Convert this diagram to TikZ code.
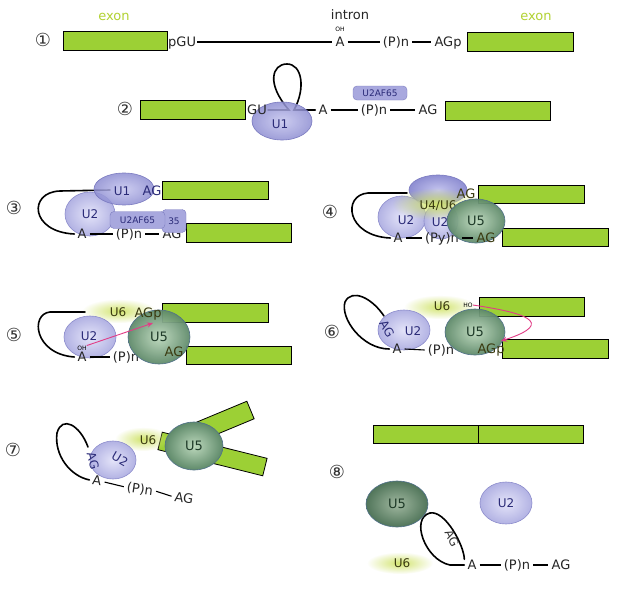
\documentclass[tikz,border=0pt]{standalone}
\usepackage{fontspec}
\setmainfont{DejaVu Sans}
\usetikzlibrary{shapes.geometric,arrows.meta,fadings}
\definecolor{exgreen}{HTML}{9CD035}
\definecolor{exlabel}{HTML}{B2D232}
\definecolor{uonein}{HTML}{C4C4EE}
\definecolor{uoneout}{HTML}{8E8ED2}
\definecolor{uonedge}{HTML}{7A7AC0}
\definecolor{utwoin}{HTML}{E4E4F9}
\definecolor{utwoout}{HTML}{B2B2E3}
\definecolor{utwoedge}{HTML}{8C8CCC}
\definecolor{ufivein}{HTML}{BCD8BC}
\definecolor{ufiveout}{HTML}{5F8A6A}
\definecolor{ufiveedge}{HTML}{50708A}
\definecolor{glowc}{HTML}{D2E46E}
\definecolor{tagfill}{HTML}{A8A8DE}
\definecolor{tagedge}{HTML}{7C7CC0}
\definecolor{pinkc}{HTML}{E23C86}
\definecolor{utxt}{HTML}{2B2B78}
\definecolor{ftxt}{HTML}{1E3A28}
\definecolor{gtxt}{HTML}{3A3A10}
\tikzfading[name=glowfade, inner color=transparent!0, outer color=transparent!100]
\pgfdeclarelayer{paper}
\pgfdeclarelayer{strand}
\pgfdeclarelayer{blob}
\pgfdeclarelayer{front}
\pgfsetlayers{paper,strand,blob,main,front}
\begin{document}
\begin{tikzpicture}[x=1pt,y=-1pt,
  exon/.style={rectangle, draw=black, line width=0.8pt, fill=exgreen, minimum height=19pt, inner sep=0pt},
  lbl/.style={inner xsep=3pt, inner ysep=1pt, text height=9pt, text depth=0pt, font=\fontsize{13}{15}\selectfont, text=black!85},
  exlbl/.style={inner sep=1pt, font=\fontsize{13}{15}\selectfont, text=exlabel},
  num/.style={inner sep=0pt, font=\fontsize{18}{19}\selectfont, text=black!80},
  seq/.style={line width=1.1pt, black},
  loopline/.style={line width=1.6pt, black, line cap=round},
  uone/.style={ellipse, draw=uonedge, line width=0.6pt, inner color=uonein, outer color=uoneout, inner sep=0pt, text=utxt, font=\fontsize{12}{14}\selectfont, text opacity=1},
  utwo/.style={ellipse, draw=utwoedge, line width=0.6pt, inner color=utwoin, outer color=utwoout, inner sep=0pt, text=utxt, font=\fontsize{12}{14}\selectfont, text opacity=1},
  ufive/.style={ellipse, draw=ufiveedge, line width=0.6pt, inner color=ufivein, outer color=ufiveout, inner sep=0pt, text=ftxt, font=\fontsize{13}{15}\selectfont, text opacity=1},
  glow/.style={ellipse, fill=glowc, path fading=glowfade, inner sep=0pt},
  snlbl/.style={inner sep=0pt, font=\fontsize{12}{14}\selectfont, text=utxt},
  sixlbl/.style={inner sep=0pt, font=\fontsize{12}{14}\selectfont, text=gtxt},
  tag/.style={rounded corners=4pt, draw=tagedge, fill=tagfill, font=\fontsize{9}{10}\selectfont, text=utxt, inner sep=1pt},
  oh/.style={inner sep=0pt, font=\fontsize{6}{7}\selectfont},
  pinkarrow/.style={draw=pinkc, line width=0.9pt, -{Stealth[length=6pt,width=5pt]}}
]
\begin{pgfonlayer}{paper}
\fill[white] (0,0) rectangle (633,592);
\end{pgfonlayer}
\useasboundingbox (0,0) rectangle (633,592);

% ---------- step 1 ----------
\node[exlbl] (ex1) at (114,17) {exon};
\node[exlbl] (ex2) at (536,17) {exon};
\node[lbl] (intr) at (350,15) {intron};
\node[num] (n1) at (43,40) {①};
\node[exon, minimum width=104] (b1l) at (115,40.5) {};
\node[lbl, anchor=west, inner xsep=1pt] (s1gu) at (167,42) {pGU};
\node[lbl] (s1a) at (340,42) {A};
\node[oh] (s1oh) at (340,29) {OH};
\node[lbl] (s1p) at (396,42) {(P)n};
\node[lbl] (s1ag) at (448,42) {AGp};
\node[exon, minimum width=106] (b1r) at (520,41.5) {};
\draw[seq] (s1gu.east) -- (s1a.west);
\draw[seq] (s1a.east) -- (s1p.west);
\draw[seq] (s1p.east) -- (s1ag.west);

% ---------- step 2 ----------
\node[num] (n2) at (125,109) {②};
\node[exon, minimum width=105] (b2l) at (192.5,109.5) {};
\node[lbl, anchor=west, inner xsep=1pt] (s2gu) at (246,110) {GU};
\node[lbl] (s2a) at (323,110) {A};
\node[lbl] (s2p) at (374,110) {(P)n};
\node[lbl] (s2ag) at (428,110) {AG};
\node[exon, minimum width=105] (b2r) at (497.5,111) {};
\node[tag, minimum width=54, minimum height=14] (s2tag) at (380,93) {U2AF65};
\begin{pgfonlayer}{blob}
\node[uone, minimum width=60, minimum height=38, fill opacity=0.85] (s2u1) at (282,121) {};
\end{pgfonlayer}
\node[snlbl] (s2u1t) at (280,124) {U1};
\begin{pgfonlayer}{strand}
\draw[loopline] (s2gu.east) -- (289,110) .. controls (266,84) and (272,64) .. (287,64) .. controls (302,64) and (306,88) .. (294,110) -- (s2a.west);
\end{pgfonlayer}
\draw[seq] (s2a.east) -- (s2p.west);
\draw[seq] (s2p.east) -- (s2ag.west);

% ---------- step 3 ----------
\node[num] (n3) at (14,208) {③};
\node[exon, minimum width=106, minimum height=18] (b3t) at (215,190.5) {};
\node[exon, minimum width=105] (b3b) at (238.5,232.5) {};
\node[lbl] (s3a) at (82,234) {A};
\node[lbl] (s3p) at (129,234) {(P)n};
\node[lbl] (s3ag) at (172,234) {AG};
\begin{pgfonlayer}{blob}
\node[utwo, minimum width=50, minimum height=44] (s3u2) at (90,214) {U2};
\node[uone, minimum width=60, minimum height=32, fill opacity=0.85] (s3u1) at (124,189) {};
\end{pgfonlayer}
\node[snlbl] (s3u1t) at (122,191) {U1};
\node[lbl, text=utxt] (s3agt) at (152,191) {AG};
\node[tag, minimum width=24, minimum height=23] (s3tag2) at (174,221) {35};
\node[tag, minimum width=55, minimum height=17] (s3tag) at (137.5,220) {U2AF65};
\coordinate (s3start) at (110,190);
\begin{pgfonlayer}{strand}
\draw[loopline] (s3start) -- (60,191) .. controls (28,192) and (30,232) .. (s3a.west);
\end{pgfonlayer}
\draw[seq] (s3a.east) -- (s3p.west);
\draw[seq] (s3p.east) -- (s3ag.west);

% ---------- step 4 ----------
\node[num] (n4) at (330,212) {④};
\node[exon, minimum width=106, minimum height=18] (b4t) at (531,194) {};
\node[exon, minimum width=106, minimum height=18] (b4b) at (555,237) {};
\node[lbl] (s4a) at (398,238) {A};
\node[lbl] (s4p) at (442,238) {(Py)n};
\begin{pgfonlayer}{blob}
\node[uone, minimum width=58, minimum height=30] (s4u1) at (438,190) {};
\node[utwo, minimum width=48, minimum height=42] (s4u2) at (402,217) {};
\node[utwo, minimum width=34, minimum height=36] (s4u2b) at (441,221) {};
\node[glow, minimum width=88, minimum height=32] (s4glow) at (436,204) {};
\end{pgfonlayer}
\node[snlbl] (s4u2t) at (406,220) {U2};
\node[snlbl] (s4u2bt) at (440,222) {U2};
\node[sixlbl] (s4u46) at (438,206) {U4/U6};
\node[lbl, text=gtxt] (s4agt) at (466,194) {AG};
\coordinate (s4start) at (407,193);
\begin{pgfonlayer}{strand}
\draw[loopline] (s4start) -- (368,193) .. controls (342,195) and (346,236) .. (s4a.west);
\end{pgfonlayer}
\draw[seq] (s4a.east) -- (s4p.west);
\begin{pgfonlayer}{front}
\node[ufive, minimum width=58, minimum height=44, fill opacity=0.95] (s4u5) at (476,221) {U5};
\node[lbl, text=gtxt] (s4ag) at (486,238) {AG};
\draw[seq] (s4p.east) -- (s4ag.west);
\end{pgfonlayer}

% ---------- step 5 ----------
\node[num] (n5) at (14,335) {⑤};
\node[exon, minimum width=106] (b5t) at (215,312.5) {};
\node[exon, minimum width=105, minimum height=18] (b5b) at (238.5,355) {};
\node[lbl] (s5a) at (82,357) {A};
\node[lbl] (s5p) at (126,357) {(P)n};
\begin{pgfonlayer}{blob}
\node[glow, minimum width=74, minimum height=24] (s5glow) at (119,311) {};
\node[utwo, minimum width=52, minimum height=42] (s5u2) at (90,337) {};
\end{pgfonlayer}
\node[sixlbl] (s5u6) at (118,312) {U6};
\node[snlbl] (s5u2t) at (89,336) {U2};
\node[oh] (s5oh) at (82,348) {OH};
\coordinate (s5start) at (85,312);
\begin{pgfonlayer}{strand}
\draw[loopline] (s5start) -- (50,312) .. controls (30,314) and (34,354) .. (s5a.west);
\end{pgfonlayer}
\draw[seq] (s5a.east) -- (s5p.west);
\begin{pgfonlayer}{front}
\node[ufive, minimum width=62, minimum height=54, fill opacity=0.95] (s5u5) at (159,337) {U5};
\node[lbl, text=gtxt] (s5agp) at (148,313) {AGp};
\node[lbl, text=gtxt] (s5ag) at (174,352) {AG};
\coordinate (s5tip) at (153,323);
\draw[pinkarrow] (s5oh.north east) -- (s5tip);
\end{pgfonlayer}

% ---------- step 6 ----------
\node[num] (n6) at (332,332) {⑥};
\node[exon, minimum width=105] (b6t) at (531.5,306.5) {};
\node[exon, minimum width=106] (b6b) at (555,348.5) {};
\node[lbl] (s6a) at (397,349) {A};
\node[lbl] (s6p) at (441,350) {(P)n};
\begin{pgfonlayer}{blob}
\node[glow, minimum width=72, minimum height=24] (s6glow) at (440,307) {};
\node[utwo, minimum width=52, minimum height=40] (s6u2) at (404,330) {};
\end{pgfonlayer}
\node[sixlbl] (s6u6) at (442,306) {U6};
\node[oh] (s6ho) at (468,305) {HO};
\node[snlbl] (s6u2t) at (413,331) {U2};
\node[snlbl, rotate=-60] (s6agr) at (387,329) {AG};
\coordinate (s6start) at (384,316);
\begin{pgfonlayer}{strand}
\draw[loopline] (s6start) .. controls (372,298) and (352,288) .. (345,302) .. controls (340,318) and (362,349) .. (s6a.west);
\end{pgfonlayer}
\draw[seq] (s6a.east) -- (s6p.west);
\begin{pgfonlayer}{front}
\node[ufive, minimum width=60, minimum height=46, fill opacity=0.95] (s6u5) at (475,332) {U5};
\node[lbl, text=gtxt] (s6agp) at (491,349) {AGp};
\coordinate (s6tip) at (501,341);
\draw[pinkarrow] (s6ho.east) .. controls (520,312) and (560,322) .. (s6tip);
\end{pgfonlayer}

% ---------- step 7 ----------
\node[num] (n7) at (13,450) {⑦};
\node[lbl, rotate=-8] (s7a) at (97,481) {A};
\node[lbl, rotate=-8] (s7p) at (140,489) {(P)n};
\node[lbl, rotate=-8] (s7ag) at (184,498) {AG};
\begin{pgfonlayer}{blob}
\node[exon, rotate=22.6, minimum width=65] (b7u) at (220.5,422.5) {};
\node[exon, rotate=-14, minimum width=108, minimum height=18] (b7d) at (212.5,454) {};
\node[glow, minimum width=56, minimum height=24] (s7glow) at (143,439) {};
\node[utwo, minimum width=46, minimum height=38] (s7u2) at (113,460) {};
\end{pgfonlayer}
\node[sixlbl] (s7u6) at (148,440) {U6};
\node[snlbl, rotate=-30] (s7u2t) at (120,459) {U2};
\node[snlbl, rotate=-75] (s7agr) at (93,461) {AG};
\coordinate (s7start) at (88,447);
\begin{pgfonlayer}{strand}
\draw[loopline] (s7start) .. controls (80,425) and (62,415) .. (57,433) .. controls (54,455) and (70,476) .. (s7a.west);
\end{pgfonlayer}
\draw[seq] (s7a.east) -- (s7p.west);
\draw[seq] (s7p.east) -- (s7ag.west);
\begin{pgfonlayer}{front}
\node[ufive, minimum width=58, minimum height=48] (s7u5) at (194,446) {U5};
\end{pgfonlayer}

% ---------- step 8 ----------
\node[exon, minimum width=105, minimum height=18] (b8l) at (425.5,434) {};
\node[exon, minimum width=105, minimum height=18] (b8r) at (530.5,434) {};
\node[num] (n8) at (337,472) {⑧};
\node[lbl] (s8a) at (472,565) {A};
\node[lbl] (s8p) at (517,565) {(P)n};
\node[lbl] (s8ag) at (561,565) {AG};
\begin{pgfonlayer}{blob}
\node[ufive, minimum width=62, minimum height=46, inner color=ufivein!85!black, outer color=ufiveout!85!black] (s8u5) at (397,504) {U5};
\node[utwo, minimum width=52, minimum height=42] (s8u2) at (506,503) {U2};
\node[glow, minimum width=66, minimum height=22] (s8glow) at (400,563) {};
\end{pgfonlayer}
\node[sixlbl] (s8u6) at (402,563) {U6};
\node[snlbl, text=black!80, rotate=-65] (s8agr) at (452,538) {AG};
\begin{pgfonlayer}{strand}
\draw[loopline] (s8a.west) -- (450,565) .. controls (425,560) and (410,518) .. (430,513) .. controls (445,510) and (464,545) .. (s8a.north west);
\end{pgfonlayer}
\draw[seq] (s8a.east) -- (s8p.west);
\draw[seq] (s8p.east) -- (s8ag.west);
\end{tikzpicture}
\end{document}
